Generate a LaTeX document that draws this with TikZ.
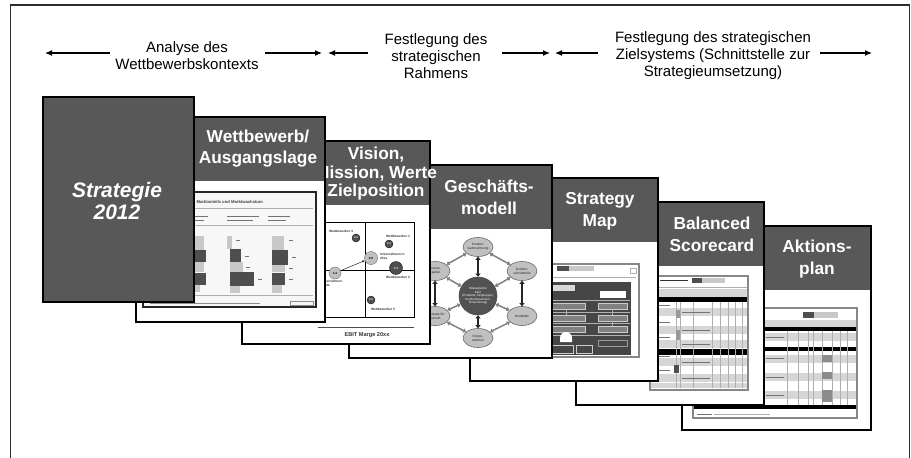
\documentclass[tikz,border=0pt]{standalone}
\usepackage{fontspec}
\setmainfont{Liberation Sans}
\usetikzlibrary{arrows.meta,shapes.geometric}
\definecolor{hdr}{RGB}{88,88,88}
\definecolor{rim}{RGB}{45,45,45}
\definecolor{bubble}{RGB}{192,192,192}
\definecolor{bubbleedge}{RGB}{105,105,105}
\definecolor{kern}{RGB}{82,82,82}
\definecolor{shotedge}{RGB}{135,135,135}
\definecolor{cellgray}{RGB}{214,214,214}
\definecolor{barlight}{RGB}{200,200,200}
\definecolor{bardark}{RGB}{78,78,78}
\definecolor{mapbg}{RGB}{70,70,70}
\definecolor{mapbox}{RGB}{128,128,128}
\definecolor{hair}{RGB}{175,175,175}

% one sheet of the stack: white page, dark title band, black outline
\newcommand{\sheet}[4]{%
  \fill[white] (#1,#2) rectangle (#3,#4);
  \fill[hdr] (#1,#2) rectangle (#3,#2+64);
  \draw[cardline] (#1,#2) rectangle (#3,#4);}

\begin{document}
\begin{tikzpicture}[x=1pt,y=-1pt,
  cardline/.style={draw=black,line width=1.6pt},
  hdrlabel/.style={text=white,font=\fontsize{17.3}{22}\selectfont\bfseries,align=center,inner sep=0pt},
  phaselabel/.style={font=\fontsize{15}{17}\selectfont,align=center,inner sep=0pt},
  phasearrow/.style={-{Latex[length=7pt,width=6pt]},line width=1.1pt},
  tinylabel/.style={font=\fontsize{3.2}{3.7}\selectfont\bfseries,inner sep=0pt,text=black!80,align=left},
  bubblenode/.style={ellipse,draw=bubbleedge,fill=bubble,line width=0.6pt,minimum width=30pt,minimum height=19pt,inner sep=0pt,align=center,font=\fontsize{3.3}{3.8}\selectfont,text=black!85},
  netlink/.style={{Triangle[length=3pt,width=4.5pt]}-{Triangle[length=3pt,width=4.5pt]},line width=1.5pt,draw=black!50},
  tielink/.style={{Triangle[length=3pt,width=5pt]}-{Triangle[length=3pt,width=5pt]},line width=2.4pt,draw=black!85},
  rivaldot/.style={circle,fill=bardark,draw=black,line width=0.3pt,inner sep=0pt,minimum size=8pt,text=white,font=\fontsize{2.6}{3}\selectfont\bfseries},
  owndot/.style={circle,fill=bubble,draw=bubbleedge,line width=0.4pt,inner sep=0pt,minimum size=13pt,text=black,font=\fontsize{3}{3.5}\selectfont\bfseries},
  stroke/.style={line width=0.8pt,draw=black!55},
  shotframe/.style={draw=shotedge,line width=1.5pt}
]
\useasboundingbox (0,0) rectangle (911,458);

% outer frame (open at the bottom)
\draw[rim,line width=1.4pt] (10.5,458) -- (10.5,5) -- (909.5,5) -- (909.5,458);

% ---------------- phase labels and arrows ----------------
\node[phaselabel] (lab1) at (187,56) {Analyse des\\Wettbewerbskontexts};
\node[phaselabel] (lab2) at (436,56) {Festlegung des\\strategischen\\Rahmens};
\node[phaselabel] (lab3) at (713,56) {Festlegung des strategischen\\Zielsystems (Schnittstelle zur\\Strategieumsetzung)};
\coordinate (a1s) at (110,53); \coordinate (a1e) at (45,53);
\coordinate (a2s) at (265,53); \coordinate (a2e) at (322,53);
\coordinate (a3s) at (368,53); \coordinate (a3e) at (328,53);
\coordinate (a4s) at (502,53); \coordinate (a4e) at (550,53);
\coordinate (a5s) at (598,53); \coordinate (a5e) at (555,53);
\coordinate (a6s) at (820,53); \coordinate (a6e) at (872,53);
\foreach \k in {1,...,6} \draw[phasearrow] (a\k s) -- (a\k e);

% ---------------- sheet 7: Aktionsplan ----------------
\sheet{682}{226}{871}{430}
\fill[white] (693,308) rectangle (857,418);
\draw[black!80,line width=0.6pt] (697,314) -- (735,314);
\fill[bardark] (803,312) rectangle (814,318);
\fill[barlight] (814,312) rectangle (838,318);
\fill[cellgray] (693,320) rectangle (857,327);
\fill[black] (693,327) rectangle (857,331);
\foreach \y in {333,355,373,391} \fill[cellgray] (693,\y) rectangle (857,\y+8);
\fill[black] (693,347) rectangle (857,351);
\fill[black] (693,405) rectangle (857,409);
\foreach \x in {763,787,798,808,813,822,832,840,847} \draw[hair,line width=0.5pt] (\x,331) -- (\x,405);
\foreach \y in {337,342,358,364,377,383,395,400} \draw[stroke,line width=0.6pt] (698,\y) -- (750,\y);
\foreach \y in {337,358,377,395} \draw[stroke,line width=0.6pt] (766,\y) -- (784,\y);
\fill[black!45] (822,355) rectangle (832,362);
\fill[black!45] (822,372) rectangle (832,379);
\fill[black!45] (822,390) rectangle (832,402);
\draw[stroke] (697,414) -- (712,414);
\draw[hair,line width=0.6pt] (714,414) -- (770,414);
\draw[shotframe] (693,308) rectangle (857,418);
\node[hdrlabel] (h7) at (817,259) {Aktions-\\plan};

% ---------------- sheet 6: Balanced Scorecard ----------------
\sheet{576}{202}{764}{405}
\fill[white] (650,276) rectangle (748,390);
\draw[black!80,line width=0.8pt] (660,280) -- (688,280);
\fill[bardark] (692,278) rectangle (702,283);
\fill[barlight] (702,278) rectangle (725,283);
\draw[hair,line width=0.5pt] (650,287) -- (748,287);
\fill[cellgray] (650,289) rectangle (748,297);
\fill[black] (650,297) rectangle (748,302);
\foreach \y in {308,326,340,358,374} \fill[cellgray] (650,\y) rectangle (748,\y+8);
\fill[black] (650,349) rectangle (748,355);
\fill[cellgray] (650,383) rectangle (748,388);
\foreach \x in {676,680,693,712,720,728,735,742} \draw[hair,line width=0.5pt] (\x,302) -- (\x,388);
\foreach \y in {312,330,344,362,378} \draw[stroke,line width=0.6pt] (682,\y) -- (710,\y);
\foreach \y in {305,322,337,356,370} \draw[stroke,line width=0.6pt] (654,\y) -- (670,\y);
\fill[black!40] (676,310) rectangle (680,318);
\fill[black!40] (676,330) rectangle (680,340);
\fill[bardark] (674,365) rectangle (679,373);
\draw[shotframe] (650,276) rectangle (748,390);
\node[hdrlabel] (h6) at (712,234) {Balanced\\Scorecard};

% ---------------- sheet 5: Strategy Map ----------------
\sheet{470}{178}{658}{381}
\fill[white] (540,264) rectangle (639,357);
\fill[bardark] (557,266) rectangle (569,271);
\fill[barlight] (569,266) rectangle (594,271);
\draw[hair,line width=0.6pt] (545,277) -- (636,277);
\draw[hair,line width=0.6pt] (630,268) rectangle (636,273);
\fill[mapbg] (540,282) rectangle (631,355);
\fill[white!85!black] (548,285) rectangle (575,291);
\fill[white] (600,291) rectangle (626,298);
\draw[black!30,line width=0.5pt] (541,300) -- (630,300) (541,312) -- (630,312) (541,323) -- (630,323) (541,335) -- (630,335);
\foreach \y in {303,315,326} {
  \draw[white!80!black,fill=mapbox,line width=0.6pt] (548,\y) rectangle (585,\y+6);
  \draw[white!80!black,fill=mapbox,line width=0.6pt] (598,\y) rectangle (627,\y+6);
}
\draw[white!70!black,line width=0.6pt] (566,309) -- (566,315) (612,309) -- (612,315) (612,321) -- (612,326);
\fill[white] (560,342) -- (560,338) arc[start angle=180,end angle=0,radius=6pt] -- (572,342) -- cycle;
\draw[white!80!black,line width=0.8pt] (548,345) rectangle (573,353);
\draw[white!80!black,line width=0.8pt] (576,345) rectangle (592,353);
\draw[white!60!black,line width=0.6pt] (598,340) rectangle (627,346);
\draw[shotframe] (540,264) rectangle (639,357);
\node[hdrlabel] (h5) at (600,211) {Strategy\\Map};

% ---------------- sheet 4: Geschaeftsmodell ----------------
\sheet{349}{165}{552}{358}
\node[bubblenode] (kw) at (478,247) {Kunden-\\wahrnehmung};
\node[bubblenode] (ks) at (522,271) {Kunden-\\schnittstelle};
\node[bubblenode] (wk) at (522,316) {Wertkette};
\node[bubblenode] (ko) at (478,338) {Koope-\\rationen};
\node[bubblenode] (kz) at (435,316) {Konzepte f\"ur\\Zukunft};
\node[bubblenode] (hk) at (435,271) {Human-\\kapital};
\node[circle,fill=kern,draw=black!70,line width=0.6pt,minimum size=38pt,inner sep=0pt,align=center,
      text=white,font=\fontsize{3}{3.6}\selectfont] (kern) at (478,296)
      {Strategischer\\Kern\\(Produkte, Zielgruppen,\\Kernkompetenzen,\\Finanzierung)};
\draw[netlink] (kw) -- (ks);
\draw[netlink] (wk) -- (ko);
\draw[netlink] (ko) -- (kz);
\draw[netlink] (hk) -- (kw);
\draw[netlink] (kern) -- (hk);
\draw[netlink] (kern) -- (ks);
\draw[netlink] (kern) -- (wk);
\draw[netlink] (kern) -- (kz);
\draw[tielink] (kw) -- (kern);
\draw[tielink] (kern) -- (ko);
\draw[tielink] (hk) -- (kz);
\draw[tielink] (ks) -- (wk);
\node[hdrlabel] (h4) at (489,197) {Gesch\"afts-\\modell};

% ---------------- sheet 3: Vision, Mission, Werte ----------------
\sheet{242}{141}{430}{344}
\draw[black,line width=0.9pt] (320,222) rectangle (414,317);
\draw[black,line width=0.9pt] (365,222) -- (365,317) (320,270) -- (414,270);
\node[rivaldot] (w4) at (356,238) {5.5};
\node[rivaldot] (w1) at (389,244) {2.3};
\node[owndot] (uz) at (371,258) {6.6};
\node[rivaldot,minimum size=13pt,font=\fontsize{3}{3.5}\selectfont\bfseries] (w2) at (396,268) {7.3};
\node[owndot,minimum size=12pt] (uh) at (335,273) {4.4};
\node[rivaldot] (w5) at (371,300) {3.5};
\draw[-{Latex[length=2.5pt,width=2pt]},line width=0.4pt] (uh) -- (uz);
\node[tinylabel] (l4) at (341,231) {Wettbewerber 4};
\node[tinylabel] (l1) at (398,236) {Wettbewerber 1};
\node[tinylabel,anchor=west] (lz) at (380,256.5) {Unternehmen in\\20xx};
\node[tinylabel] (l2) at (398,277) {Wettbewerber 2};
\node[tinylabel,anchor=west] (lh) at (321,283.5) {Unternehmen\\heute};
\node[tinylabel] (l5) at (383,309) {Wettbewerber 5};
\draw[black!70,line width=0.9pt] (318,327) -- (414,327);
\node[font=\fontsize{5.6}{6}\selectfont\bfseries,text=black!80,inner sep=0pt] (ebit) at (367,335) {EBIT Marge 20xx};
\node[hdrlabel,font=\fontsize{17.3}{18.5}\selectfont\bfseries] (h3) at (376,174) {Vision,\\Mission, Werte\\Zielposition};

% ---------------- sheet 2: Wettbewerb / Ausgangslage ----------------
\sheet{136}{117}{325}{322}
\fill[white!97!black] (143,192) rectangle (316,307);
\node[font=\fontsize{4.2}{5}\selectfont\bfseries,text=black!75,inner sep=0pt,anchor=east] (ct) at (263,201.5) {Marktanteils und Marktwachstum};
\draw[hair,line width=0.6pt] (150,208) -- (313,208);
\foreach \x/\w in {186/22,227/32,268/22} {
  \draw[stroke,line width=0.7pt] (\x,216) -- (\x+\w,216);
  \draw[stroke,line width=0.7pt] (\x,220) -- (\x+\w*0.8,220);
}
\draw[hair,line width=0.6pt] (150,225) -- (313,225);
% stacked bars
\fill[barlight] (186,236) rectangle (204,250);
\fill[bardark] (186,250) rectangle (206,262);
\fill[barlight] (186,262) rectangle (204,272);
\fill[bardark] (186,273) rectangle (206,285);
\fill[barlight] (186,285) rectangle (200,292);
\fill[barlight] (227,236) rectangle (232,249);
\fill[bardark] (230,249) rectangle (241,262);
\fill[barlight] (230,262) rectangle (243,272);
\fill[bardark] (230,272) rectangle (254,286);
\fill[barlight] (230,286) rectangle (240,293);
\fill[barlight] (272,236) rectangle (284,250);
\fill[bardark] (272,250) rectangle (288,265);
\fill[barlight] (272,265) rectangle (285,272);
\fill[bardark] (272,273) rectangle (285,285);
\fill[barlight] (272,285) rectangle (282,293);
\foreach \x/\y in {236/240,245/256,246/267,258/279,289/240,292/257,289/268,289/279} \draw[stroke,line width=0.6pt] (\x,\y) -- (\x+4,\y);
\draw[hair,line width=0.8pt] (150,295) -- (313,295);
\draw[black!45,line width=0.5pt] (150,303) -- (260,303);
\draw[black!45,line width=0.5pt] (290,301) rectangle (313,305);
\draw[black!85,line width=1.5pt] (143,192) rectangle (316,307);
\node[hdrlabel,font=\fontsize{17.3}{21}\selectfont\bfseries] (h2) at (258,149) {Wettbewerb/\\Ausgangslage};

% ---------------- sheet 1: title block ----------------
\fill[hdr] (43,97) rectangle (194,302);
\draw[cardline] (43,97) rectangle (194,302);
\node[text=white,font=\fontsize{21}{22}\selectfont\bfseries\itshape,align=center,inner sep=0pt] (h1) at (117,201) {Strategie\\2012};
\end{tikzpicture}
\end{document}
